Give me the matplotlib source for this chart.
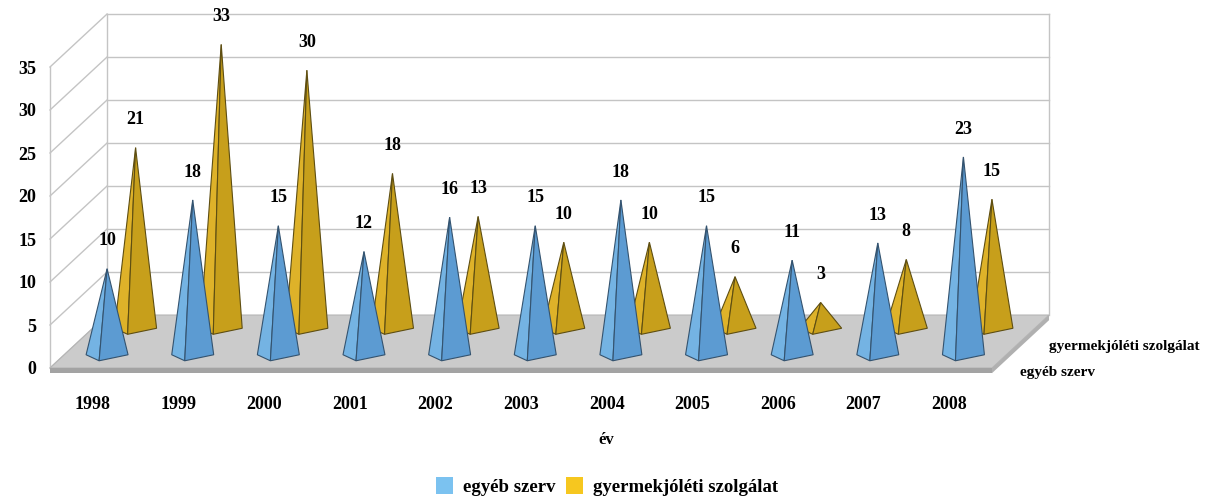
import matplotlib.pyplot as plt
from matplotlib.patches import Polygon, Patch

years = ['1998', '1999', '2000', '2001', '2002', '2003',
         '2004', '2005', '2006', '2007', '2008']
egyeb_szerv = [10, 18, 15, 12, 16, 15, 18, 15, 11, 13, 23]
gyermekjoleti = [21, 33, 30, 18, 13, 10, 10, 6, 3, 8, 15]
series_names = ['egyéb szerv', 'gyermekjóléti szolgálat']
y_ticks = [0, 5, 10, 15, 20, 25, 30, 35]

# oblique "3D" look: depth 0..1 shifts right and up (in data units)
DEPTH_X = 0.666
DEPTH_Y = 6.16
Y_MAX = 35
FLOOR_T = 0.6

font = 'Liberation Serif'
blue_faces = ('#74B3E3', '#5C9BD2')
yellow_faces = ('#DEB229', '#C79F1B')


def proj(x, y, z):
    return x + z * DEPTH_X, y + z * DEPTH_Y


def pyramid(ax, cx, z, value, colors, edge):
    bx, by = proj(cx, 0, z)
    left = (bx - 0.245, by)
    front = (bx - 0.093, by - 0.7)
    right = (bx + 0.245, by)
    apex = (bx, by + value)
    ax.add_patch(Polygon([left, front, apex], closed=True, fc=colors[0],
                         ec=edge, lw=0.8, clip_on=False, zorder=3))
    ax.add_patch(Polygon([front, right, apex], closed=True, fc=colors[1],
                         ec=edge, lw=0.8, clip_on=False, zorder=3))
    ax.annotate(str(value), apex, xytext=(0, 14), textcoords='offset points',
                ha='center', va='bottom', fontsize=13, fontweight='bold',
                family=font, zorder=5, annotation_clip=False)


fig = plt.figure(figsize=(12.14, 5.0), dpi=100)
ax = fig.add_axes([50 / 1214, (500 - 368) / 500, 942 / 1214, 301 / 500])
n = len(years)
ax.set_xlim(0, n)
ax.set_ylim(0, Y_MAX)
for s in ax.spines.values():
    s.set_visible(False)

grid_c = '#C4C4C4'
# back wall
bx0, by0 = proj(0, 0, 1)
bx1, by1 = proj(n, Y_MAX, 1)
for v in y_ticks:
    if v > 0:
        ax.plot([bx0, bx1], [v + DEPTH_Y, v + DEPTH_Y], color=grid_c, lw=1,
                clip_on=False, zorder=1)
for xb in (bx0, bx1):
    ax.plot([xb, xb], [by0, by1], color=grid_c, lw=1, clip_on=False, zorder=1)
# left wall
for v in y_ticks:
    x2, y2 = proj(0, v, 1)
    ax.plot([0, x2], [v, y2], color=grid_c, lw=1, clip_on=False, zorder=1)
ax.plot([0, 0], [0, Y_MAX], color=grid_c, lw=1, clip_on=False, zorder=1)

# floor
floor = [(0, 0), (n, 0), proj(n, 0, 1), proj(0, 0, 1)]
ax.add_patch(Polygon(floor, closed=True, fc='#CBCBCB', ec='#B5B5B5', lw=0.8,
                     clip_on=False, zorder=2))
ax.add_patch(Polygon([(0, 0), (n, 0), (n, -FLOOR_T), (0, -FLOOR_T)], closed=True,
                     fc='#A3A3A3', ec='none', clip_on=False, zorder=2))
side = [(n, 0), proj(n, 0, 1), proj(n, -FLOOR_T, 1), (n, -FLOOR_T)]
ax.add_patch(Polygon(side, closed=True, fc='#B0B0B0', ec='none',
                     clip_on=False, zorder=2))

# pyramids: back row first
for i, v in enumerate(gyermekjoleti):
    pyramid(ax, i + 0.5, 0.75, v, yellow_faces, '#5E4E12')
for i, v in enumerate(egyeb_szerv):
    pyramid(ax, i + 0.5, 0.25, v, blue_faces, '#34536F')

# depth axis labels
for z, name in zip((0.25, 0.75), series_names):
    ax.annotate(name, proj(n, 0, z), xytext=(10, -13), textcoords='offset points',
                ha='left', va='center', fontsize=11, fontweight='bold',
                family=font, annotation_clip=False)

ax.set_yticks(y_ticks)
ax.set_yticklabels([str(v) for v in y_ticks], fontsize=13, fontweight='bold',
                   family=font)
ax.set_xticks([i + 0.5 for i in range(n)])
ax.set_xticklabels(years, fontsize=13, fontweight='bold', family=font)
ax.tick_params(axis='y', length=0, pad=10)
ax.tick_params(axis='x', length=0, pad=20)
ax.set_xlabel('év', fontsize=12, fontweight='bold', family=font, labelpad=14,
              x=0.591)

handles = [Patch(fc='#7BC2F0', ec='none'), Patch(fc='#F6C71F', ec='none')]
fig.legend(handles, series_names, loc='lower center',
           bbox_to_anchor=(0.5, -0.025), ncol=2, frameon=False,
           handlelength=0.9, handleheight=1.0, handletextpad=0.5,
           columnspacing=0.6,
           prop={'family': font, 'weight': 'bold', 'size': 13.5})

fig.savefig('out.png', dpi=100)
